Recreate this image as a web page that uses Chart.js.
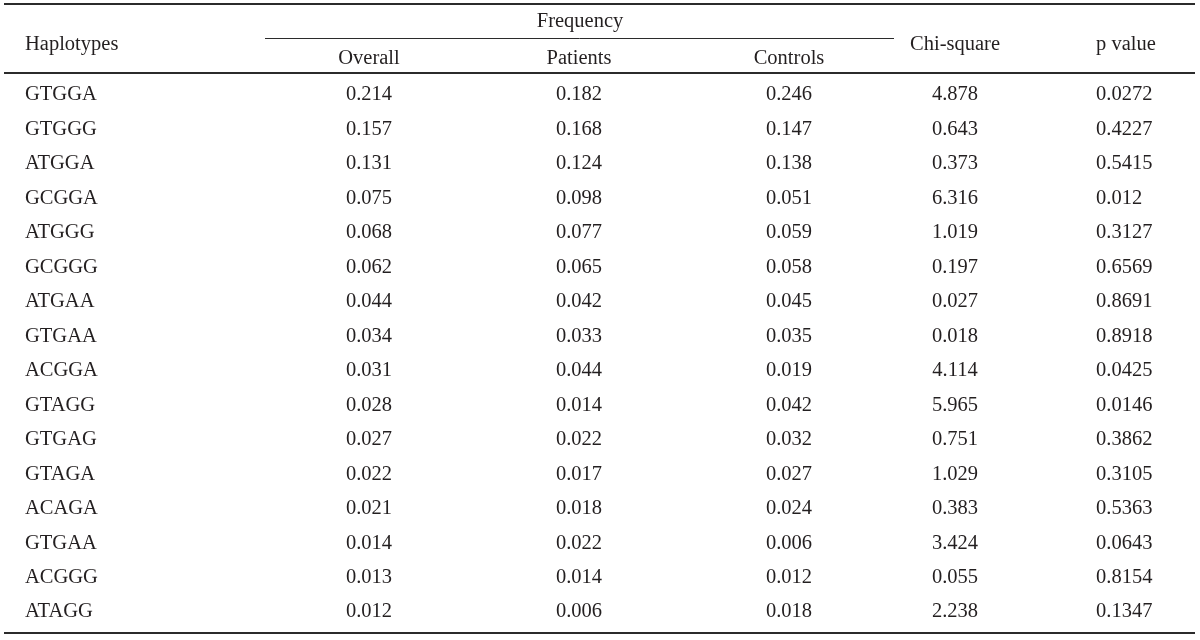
<!DOCTYPE html>
<html>
<head>
<meta charset="utf-8">
<script src="https://cdn.jsdelivr.net/npm/chart.js@4.4.1/dist/chart.umd.min.js"></script>
<style>
  html, body { margin: 0; padding: 0; background: #fff; }
  #wrap { width: 1200px; height: 640px; position: relative; }
</style>
</head>
<body>
<div id="wrap"><canvas id="tbl"></canvas></div>
<script>
// 표 데이터
const haplotypes = ['GTGGA', 'GTGGG', 'ATGGA', 'GCGGA', 'ATGGG', 'GCGGG', 'ATGAA', 'GTGAA',
                    'ACGGA', 'GTAGG', 'GTGAG', 'GTAGA', 'ACAGA', 'GTGAA', 'ACGGG', 'ATAGG'];
const overall   = ['0.214', '0.157', '0.131', '0.075', '0.068', '0.062', '0.044', '0.034',
                   '0.031', '0.028', '0.027', '0.022', '0.021', '0.014', '0.013', '0.012'];
const patients  = ['0.182', '0.168', '0.124', '0.098', '0.077', '0.065', '0.042', '0.033',
                   '0.044', '0.014', '0.022', '0.017', '0.018', '0.022', '0.014', '0.006'];
const controls  = ['0.246', '0.147', '0.138', '0.051', '0.059', '0.058', '0.045', '0.035',
                   '0.019', '0.042', '0.032', '0.027', '0.024', '0.006', '0.012', '0.018'];
const chiSquare = ['4.878', '0.643', '0.373', '6.316', '1.019', '0.197', '0.027', '0.018',
                   '4.114', '5.965', '0.751', '1.029', '0.383', '3.424', '0.055', '2.238'];
const pValues   = ['0.0272', '0.4227', '0.5415', '0.012', '0.3127', '0.6569', '0.8691', '0.8918',
                   '0.0425', '0.0146', '0.3862', '0.3105', '0.5363', '0.0643', '0.8154', '0.1347'];

const groupHeader = 'Frequency';
const subHeaders  = ['Overall', 'Patients', 'Controls'];
const sideHeaders = ['Haplotypes', 'Chi-square', 'p value'];

// 레이아웃 (열 위치, 정렬)
const colPos   = [25, 369, 579, 789, 955, 1096];
const colAlign = ['left', 'center', 'center', 'center', 'center', 'left'];
const columns  = [haplotypes, overall, patients, controls, chiSquare, pValues];

const FONT = '20.5px "Liberation Serif", "DejaVu Serif", serif';
const INK = '#231f20';
const DY = 2; // 글꼴 기준선 보정

const tablePlugin = {
    id: 'tableText',
    afterDatasetsDraw(chart) {
        const ctx = chart.ctx;
        const xs = chart.scales.x;
        const ys = chart.scales.y;
        ctx.save();
        ctx.font = FONT;
        ctx.fillStyle = INK;
        ctx.textBaseline = 'middle';

        // 셀 텍스트: 각 포인트 요소 위치에 그림
        chart.data.datasets.forEach((ds, di) => {
            const meta = chart.getDatasetMeta(di);
            ctx.textAlign = colAlign[di];
            meta.data.forEach((pt, i) => {
                ctx.fillText(columns[di][i], pt.x, pt.y + DY);
            });
        });

        // 헤더
        ctx.textAlign = 'center';
        ctx.fillText(groupHeader, xs.getPixelForValue(580), ys.getPixelForValue(-2.12) + DY);
        subHeaders.forEach((h, k) => {
            ctx.fillText(h, xs.getPixelForValue(colPos[k + 1]), ys.getPixelForValue(-1.05) + DY);
        });
        [0, 4, 5].forEach((c, k) => {
            ctx.textAlign = colAlign[c];
            ctx.fillText(sideHeaders[k], xs.getPixelForValue(colPos[c]), ys.getPixelForValue(-1.45) + DY);
        });

        // 가로선
        ctx.strokeStyle = '#2b2b2b';
        const hline = (v, x0, x1, w) => {
            ctx.lineWidth = w;
            const y = Math.round(ys.getPixelForValue(v)) + (w % 2 ? 0.5 : 0);
            ctx.beginPath();
            ctx.moveTo(xs.getPixelForValue(x0), y);
            ctx.lineTo(xs.getPixelForValue(x1), y);
            ctx.stroke();
        };
        hline(-2.59, 4, 1195, 2);
        hline(-1.585, 265, 894, 1);
        hline(-0.59, 4, 1195, 2);
        hline(15.67, 4, 1195, 2);
        ctx.restore();
    }
};

const datasets = columns.map((col, c) => ({
    label: 'col' + c,
    data: col.map((v, i) => ({ x: colPos[c], y: i })),
    pointRadius: 0,
    showLine: false
}));

new Chart(document.getElementById('tbl'), {
    type: 'scatter',
    data: { datasets },
    options: {
        responsive: true,
        maintainAspectRatio: false,
        animation: false,
        layout: { padding: 0 },
        plugins: { legend: { display: false }, tooltip: { enabled: false } },
        scales: {
            x: { type: 'linear', display: false, min: 0, max: 1200 },
            y: { type: 'linear', display: false, reverse: true, min: -2.698, max: 15.868 }
        }
    },
    plugins: [tablePlugin]
});
</script>
</body>
</html>
